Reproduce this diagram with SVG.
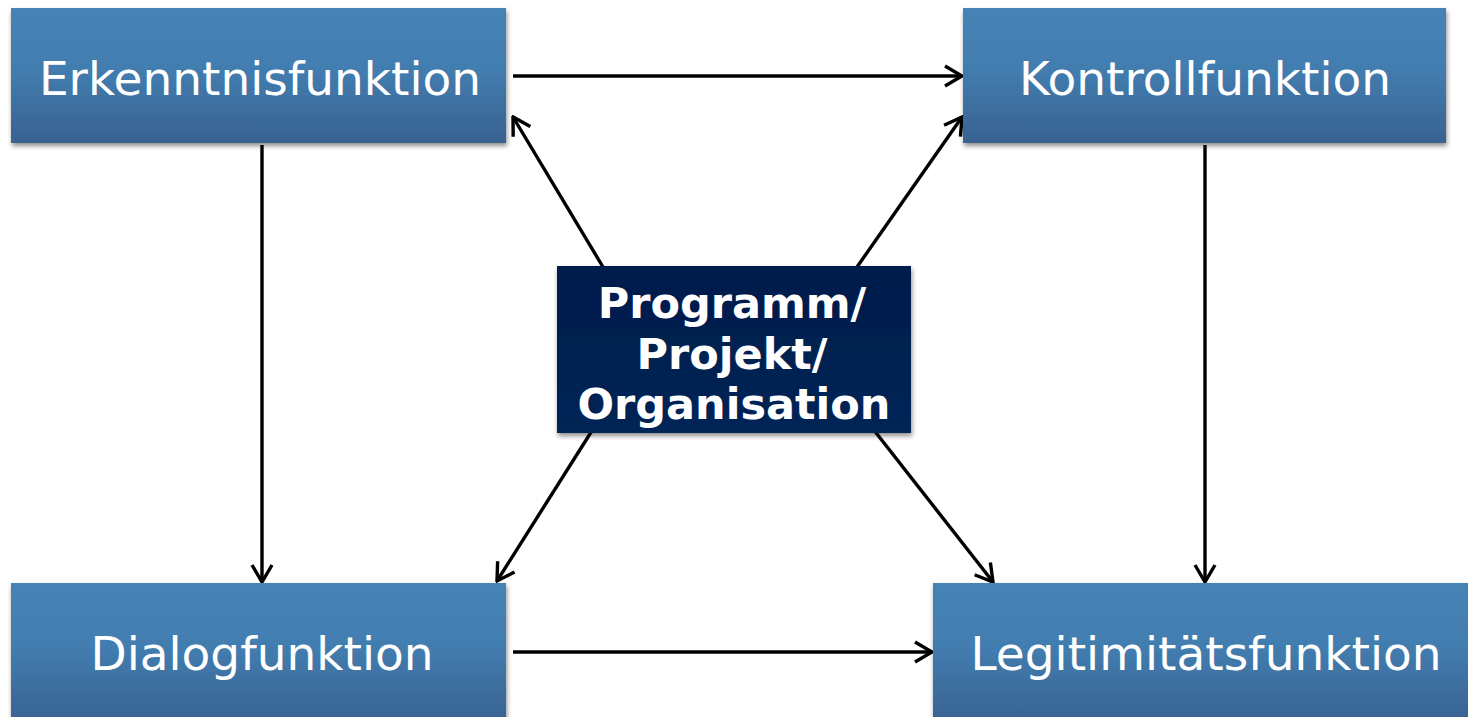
<svg xmlns="http://www.w3.org/2000/svg" width="1468" height="717" viewBox="0 0 1468 717">
<defs>
<linearGradient id="gBlue" x1="0" y1="0" x2="0" y2="1">
<stop offset="0" stop-color="#4682b6"/>
<stop offset="0.45" stop-color="#437db0"/>
<stop offset="1" stop-color="#376290"/>
</linearGradient>
<linearGradient id="gDark" x1="0" y1="0" x2="0" y2="1">
<stop offset="0" stop-color="#001c4c"/>
<stop offset="1" stop-color="#062556"/>
</linearGradient>
<filter id="sh" x="-5%" y="-5%" width="112%" height="120%">
<feGaussianBlur in="SourceAlpha" stdDeviation="2.5"/>
<feOffset dx="1" dy="3" result="b"/>
<feComponentTransfer><feFuncA type="linear" slope="0.45"/></feComponentTransfer>
<feMerge><feMergeNode/><feMergeNode in="SourceGraphic"/></feMerge>
</filter>
<marker id="arr" viewBox="0 0 22 24" refX="20" refY="12" markerWidth="22" markerHeight="24" markerUnits="userSpaceOnUse" orient="auto">
<path d="M3,2 L20,12 L3,22" fill="none" stroke="#000" stroke-width="3.4"/>
</marker>
<style>
.box{fill:url(#gBlue);filter:url(#sh);}
.lbl{font-family:"DejaVu Sans",Verdana,sans-serif;font-size:47px;fill:#fff;text-anchor:middle;}
.ctr{font-family:"DejaVu Sans",Verdana,sans-serif;font-size:43px;font-weight:bold;fill:#fff;text-anchor:middle;}
.con{stroke:#000;stroke-width:3.4;fill:none;marker-end:url(#arr);}
</style>
</defs>
<rect width="1468" height="717" fill="#fff"/>
<g id="connectors">
<line class="con" x1="513" y1="76" x2="962" y2="76"/>
<line class="con" x1="262" y1="145" x2="262" y2="582"/>
<line class="con" x1="1205" y1="145" x2="1205" y2="582"/>
<line class="con" x1="513" y1="652" x2="932" y2="652"/>
<line class="con" x1="603" y1="267" x2="513" y2="117"/>
<line class="con" x1="857" y1="267" x2="962" y2="117"/>
<line class="con" x1="600" y1="418" x2="497" y2="581"/>
<line class="con" x1="866" y1="420" x2="993" y2="582"/>
</g>
<g id="erkenntnis">
<rect class="box" x="11" y="8" width="495" height="135"/>
<text class="lbl" x="260" y="95">Erkenntnisfunktion</text>
</g>
<g id="kontroll">
<rect class="box" x="963" y="8" width="483" height="135"/>
<text class="lbl" x="1205" y="95">Kontrollfunktion</text>
</g>
<g id="dialog">
<rect class="box" x="11" y="583" width="495" height="140"/>
<text class="lbl" x="262" y="670">Dialogfunktion</text>
</g>
<g id="legitimitaet">
<rect class="box" x="933" y="583" width="540" height="140"/>
<text class="lbl" x="1206" y="670">Legitimitätsfunktion</text>
</g>
<g id="center">
<rect x="557" y="266" width="354" height="167" fill="url(#gDark)" filter="url(#sh)"/>
<text class="ctr" x="732" y="318">Programm/</text>
<text class="ctr" x="732" y="369">Projekt/</text>
<text class="ctr" x="734" y="419">Organisation</text>
</g>
</svg>
